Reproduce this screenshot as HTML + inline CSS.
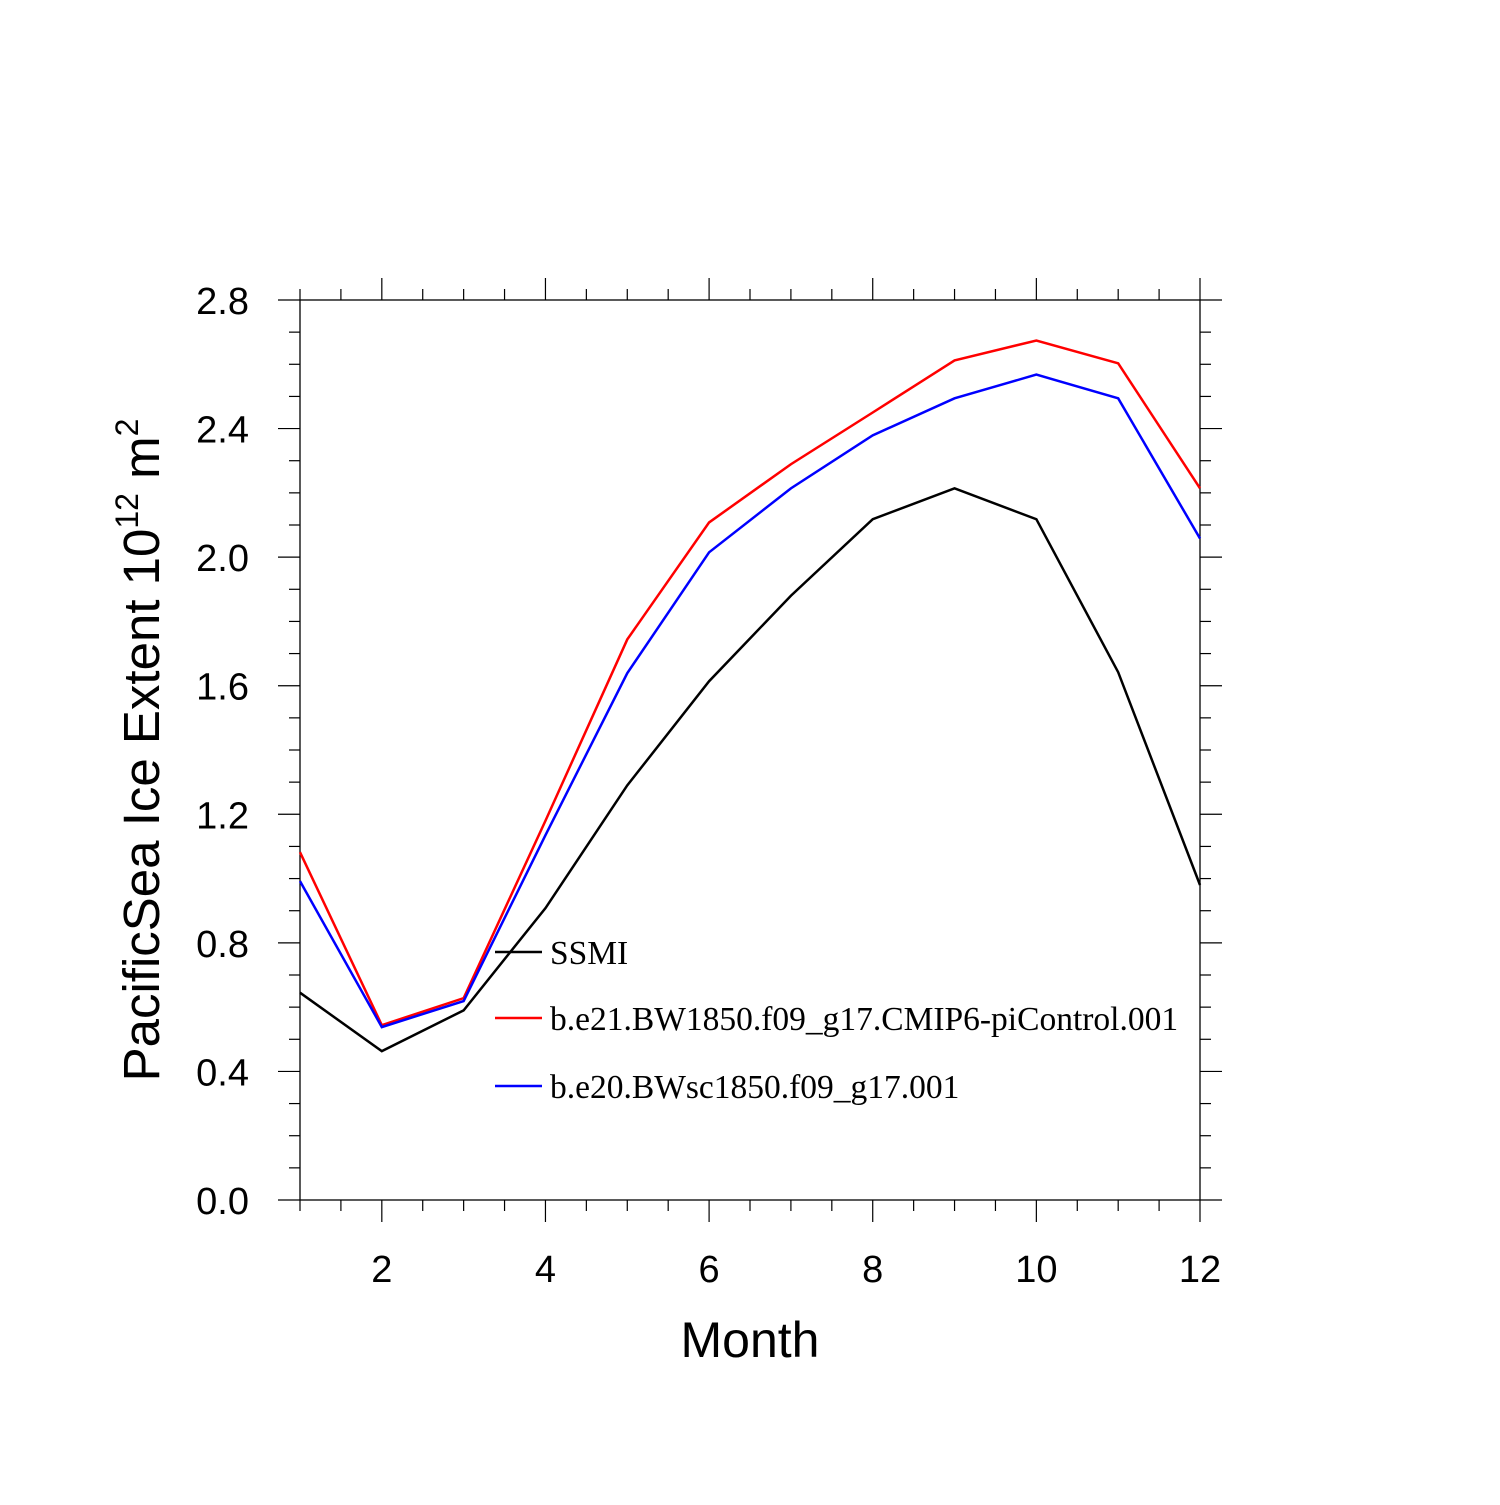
<!DOCTYPE html>
<html><head><style>body{margin:0;background:#fff}</style></head><body>
<svg id="c" width="1500" height="1500" xmlns="http://www.w3.org/2000/svg" style="font-family:'Liberation Sans',sans-serif">
<rect width="1500" height="1500" fill="#fff"/>
<g id="ax"></g><g id="series"></g><g id="legend"></g>
<text x="750" y="1357" font-size="50" text-anchor="middle">Month</text>
<text transform="translate(159,750) rotate(-90)" font-size="51" text-anchor="middle">PacificSea Ice Extent 10<tspan font-size="32" dy="-21">12</tspan><tspan dy="21"> m</tspan><tspan font-size="32" dy="-21">2</tspan></text>
</svg>
<script>
const months=[1,2,3,4,5,6,7,8,9,10,11,12];
const ssmi=[0.645,0.463,0.59,0.908,1.29,1.614,1.88,2.118,2.214,2.118,1.642,0.98];
const ctrl=[1.082,0.544,0.628,1.18,1.744,2.108,2.289,2.45,2.612,2.674,2.603,2.214];
const bwsc=[0.992,0.538,0.619,1.135,1.639,2.015,2.214,2.379,2.494,2.568,2.494,2.058];
const xTicks=[2,4,6,8,10,12];
const yTicks=["0.0","0.4","0.8","1.2","1.6","2.0","2.4","2.8"];
const names=["SSMI","b.e21.BW1850.f09_g17.CMIP6-piControl.001","b.e20.BWsc1850.f09_g17.001"];
const colors=["#000","#f00","#00f"];
const X=m=>300+(m-1)*900/11, Y=v=>1200-v*900/2.8;
const NS="http://www.w3.org/2000/svg";
function mk(p,t,a){const e=document.createElementNS(NS,t);for(const k in a)e.setAttribute(k,a[k]);p.appendChild(e);return e;}
const ax=document.getElementById('ax');
const fr=mk(ax,'rect',{x:300,y:Y(2.8),width:900,height:Y(0)-Y(2.8),fill:'none',stroke:'#000','stroke-width':1.3});


for(let m=1;m<=12;m+=0.5){const maj=xTicks.includes(m);const L=maj?22:11;
 let t=mk(ax,'line',{x1:X(m),x2:X(m),y1:Y(0),y2:Y(0)+L,stroke:'#000','stroke-width':1.2});
 
 
 t=mk(ax,'line',{x1:X(m),x2:X(m),y1:Y(2.8),y2:Y(2.8)-L,stroke:'#000','stroke-width':1.2});
 
 }
xTicks.forEach(m=>{const t=mk(ax,'text',{x:X(m),y:1282,'font-size':38,'text-anchor':'middle'});t.textContent=m;
 
 });
for(let i=0;i<=28;i++){const v=i/10;const maj=i%4==0;const L=maj?22:11;
 let t=mk(ax,'line',{x1:300,x2:300-L,y1:Y(v),y2:Y(v),stroke:'#000','stroke-width':1.2});
 
 
 t=mk(ax,'line',{x1:1200,x2:1200+L,y1:Y(v),y2:Y(v),stroke:'#000','stroke-width':1.2});
 
 }
yTicks.forEach(s=>{const t=mk(ax,'text',{x:249,y:Y(+s)+14,'font-size':38,'text-anchor':'end'});t.textContent=s;
 
 });
const sg=document.getElementById('series');
[ssmi,ctrl,bwsc].forEach((d,i)=>{const p=mk(sg,'polyline',{points:d.map((v,j)=>X(months[j])+','+Y(v)).join(' '),fill:'none',stroke:colors[i],'stroke-width':2.5});
 
 });
const lg=document.getElementById('legend');
[952,1018,1086].forEach((y,i)=>{const g=mk(lg,'g',{});
 
 
 mk(g,'line',{x1:495,x2:542,y1:y,y2:y,stroke:colors[i],'stroke-width':2.5});
 const t=mk(g,'text',{x:550,y:y+12,'font-size':33.5,'font-family':"'Liberation Serif',serif"});t.textContent=names[i];});
</script>
</body></html>
